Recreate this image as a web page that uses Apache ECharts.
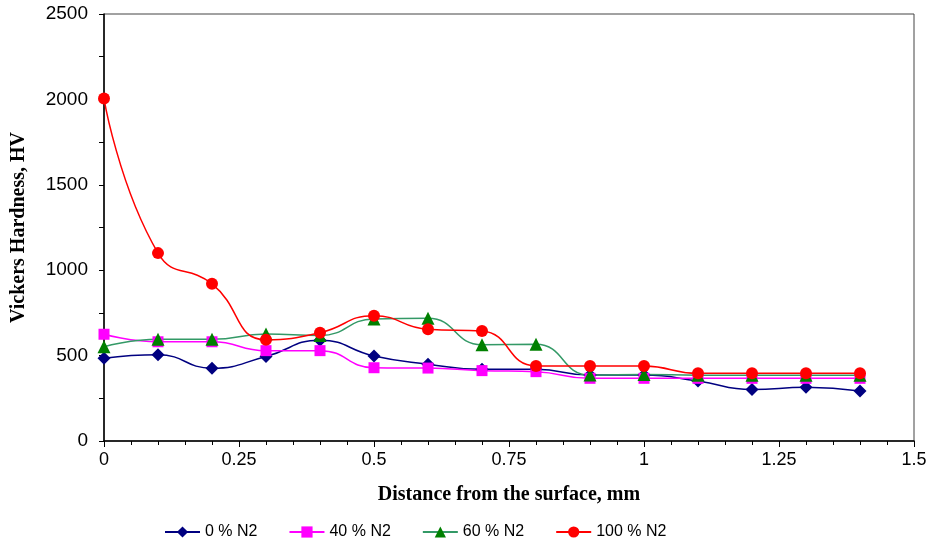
<!DOCTYPE html>
<html>
<head>
<meta charset="utf-8">
<script src="https://cdn.jsdelivr.net/npm/echarts@6/dist/echarts.min.js"></script>
<style>html,body{margin:0;padding:0;background:#fff}#c{width:931px;height:547px}</style>
</head>
<body>
<div id="c"></div>
<script>
var distances = [0, 0.1, 0.2, 0.3, 0.4, 0.5, 0.6, 0.7, 0.8, 0.9, 1.0, 1.1, 1.2, 1.3, 1.4];
var n2_0   = [485, 505, 426, 495, 590, 498, 450, 420, 420, 386, 386, 351, 302, 314, 293];
var n2_40  = [625, 581, 581, 529, 529, 429, 427, 412, 406, 367, 367, 367, 367, 367, 367];
var n2_60  = [552, 595, 595, 626, 618, 715, 718, 564, 566, 386, 390, 385, 385, 385, 385];
var n2_100 = [2005, 1100, 920, 593, 634, 734, 654, 644, 439, 439, 439, 396, 396, 396, 396];
var seriesNames = ['0 % N2', '40 % N2', '60 % N2', '100 % N2'];
var xTickLabels = ['0', '0.25', '0.5', '0.75', '1', '1.25', '1.5'];

function pairs(ys){ return distances.map(function(x,i){ return [x, ys[i]]; }); }

var chart = echarts.init(document.getElementById('c'));
var sans = 'Liberation Sans, Arial, sans-serif';
var serif = 'Liberation Serif, Times New Roman, serif';
chart.setOption({
  animation: false,
  backgroundColor: '#fff',
  grid: {left: 104, right: 17, top: 14, bottom: 106, show: true, borderColor: '#444', borderWidth: 1},
  xAxis: {
    type: 'value', min: 0, max: 1.5, interval: 0.25,
    name: 'Distance from the surface, mm', nameLocation: 'middle', nameGap: 44,
    nameTextStyle: {fontFamily: serif, fontWeight: 'bold', fontSize: 20, color: '#000'},
    axisLine: {lineStyle: {color: '#000', width: 1.5}},
    axisTick: {show: true, length: 6, lineStyle: {color: '#000'}},
    minorTick: {show: true, splitNumber: 5, length: 4, lineStyle: {color: '#000'}},
    splitLine: {show: false},
    axisLabel: {margin: 10, fontFamily: sans, fontSize: 18, color: '#000',
      formatter: function(v){ var i = Math.round(v/0.25); return xTickLabels[i] || ''; }}
  },
  yAxis: {
    type: 'value', min: 0, max: 2500, interval: 250,
    name: 'Vickers Hardness, HV', nameLocation: 'middle', nameGap: 75,
    nameTextStyle: {fontFamily: serif, fontWeight: 'bold', fontSize: 20, color: '#000'},
    axisLine: {show: true, lineStyle: {color: '#000', width: 1.5}},
    axisTick: {show: true, length: 5, lineStyle: {color: '#000'}},
    splitLine: {show: false},
    axisLabel: {margin: 16, fontFamily: sans, fontSize: 19, color: '#000',
      formatter: function(v){ return v % 500 === 0 ? String(v) : ''; }}
  },
  legend: {
    left: 159, top: 519, itemWidth: 35, itemHeight: 14, itemGap: 31,
    textStyle: {fontFamily: sans, fontSize: 16, color: '#000'},
    data: seriesNames
  },
  series: [
    {name: seriesNames[0], type: 'line', data: pairs(n2_0), smooth: 0.5, symbol: 'diamond', symbolSize: 13,
     lineStyle: {color: '#000080', width: 1.5}, itemStyle: {color: '#000080'}},
    {name: seriesNames[1], type: 'line', data: pairs(n2_40), smooth: 0.5, symbol: 'rect', symbolSize: 11,
     lineStyle: {color: '#FF00FF', width: 1.5}, itemStyle: {color: '#FF00FF'}},
    {name: seriesNames[2], type: 'line', data: pairs(n2_60), smooth: 0.5, symbol: 'triangle', symbolSize: 13,
     lineStyle: {color: '#339966', width: 1.5}, itemStyle: {color: '#008000'}},
    {name: seriesNames[3], type: 'line', data: pairs(n2_100), smooth: 0.5, symbol: 'circle', symbolSize: 12,
     lineStyle: {color: '#FF0000', width: 1.5}, itemStyle: {color: '#FF0000'}}
  ]
});
</script>
</body>
</html>
